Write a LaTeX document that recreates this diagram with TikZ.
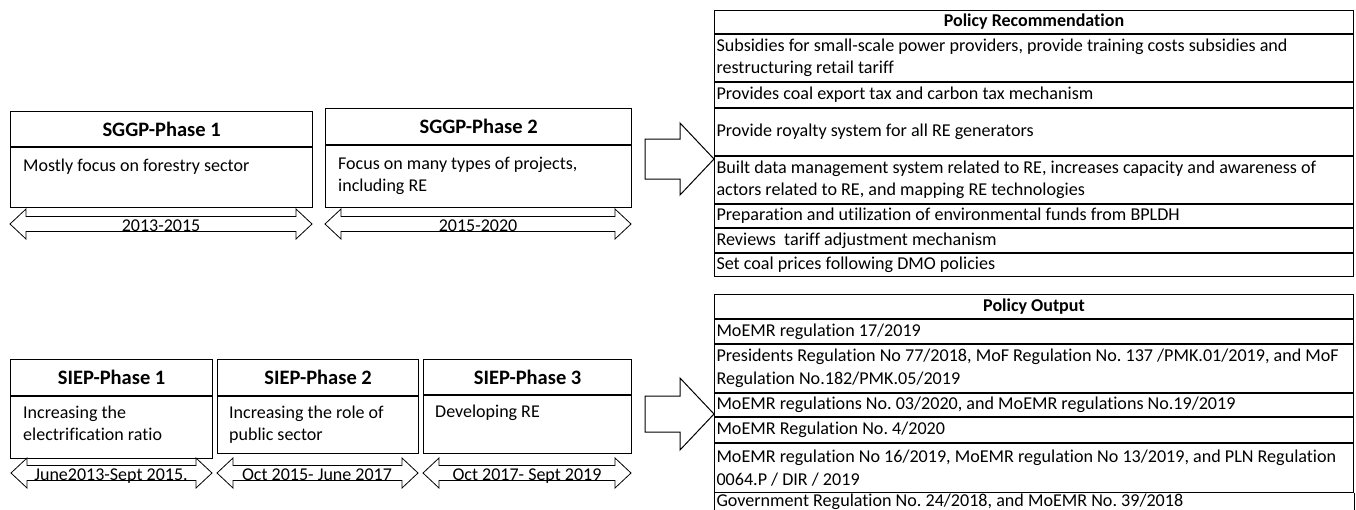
\documentclass[tikz,border=0pt]{standalone}
\usepackage{fontspec}
\setmainfont{Carlito}[Ligatures=CommonOff]
\frenchspacing
\usetikzlibrary{positioning}

\newcommand{\periodarrow}[3]{%
  \draw[period] (#1,#3) -- (#1+16,#3-15) -- (#1+16,#3-7.5) -- (#2-16,#3-7.5)
    -- (#2-16,#3-15) -- (#2,#3) -- (#2-16,#3+15) -- (#2-16,#3+7.5)
    -- (#1+16,#3+7.5) -- (#1+16,#3+15) -- cycle;}

\begin{document}
\begin{tikzpicture}[x=1pt, y=-1pt,
    phasehead/.style={draw, line width=1.2pt, inner sep=0pt, anchor=north west,
        font=\fontsize{20.5}{24}\selectfont\bfseries},
    phasebody/.style={draw, line width=1.2pt, inner sep=0pt},
    phasetext/.style={inner sep=0pt, align=flush left, anchor=north west,
        font=\fontsize{18}{22}\selectfont},
    period/.style={draw, line width=0.8pt, fill=white},
    periodtext/.style={inner sep=0pt, anchor=base, font=\fontsize{18}{22}\selectfont},
    tablehead/.style={draw, line width=1pt, minimum width=639pt, inner sep=0pt,
        font=\fontsize{18}{22}\selectfont\bfseries},
    tablerow/.style={draw, line width=1pt, text width=635pt, inner xsep=2pt,
        inner ysep=0pt, align=flush left, font=\fontsize{18.1}{22.5}\selectfont},
    bigarrow/.style={draw, line width=1pt, fill=white}]

\useasboundingbox (0,0) rectangle (1356,509);
\clip (0,0) rectangle (1356,509);

% SGGP phases
\node[phasehead, minimum width=302pt, minimum height=35pt] (sggpA) at (10,111) {SGGP-Phase 1};
\node[phasebody, minimum width=302pt, minimum height=60pt, below=0pt of sggpA] (sggpAbody) {};
\node[phasetext] (sggpAtext) at ([xshift=13pt, yshift=-12pt]sggpAbody.north west)
    {Mostly focus on forestry sector};

\node[phasehead, minimum width=306pt, minimum height=36pt] (sggpB) at (325,108) {SGGP-Phase 2};
\node[phasebody, minimum width=306pt, minimum height=62pt, below=0pt of sggpB] (sggpBbody) {};
\node[phasetext] (sggpBtext) at ([xshift=13pt, yshift=-12pt]sggpBbody.north west)
    {Focus on many types of projects,\\including RE};

\periodarrow{10}{312}{224}
\node[periodtext] (sggpAyears) at (161,231) {2013-2015};
\periodarrow{325}{631}{224}
\node[periodtext] (sggpByears) at (478,231) {2015-2020};

% SIEP phases
\node[phasehead, minimum width=202pt, minimum height=36pt] (siepA) at (10,359) {SIEP-Phase 1};
\node[phasebody, minimum width=202pt, minimum height=62pt, below=0pt of siepA] (siepAbody) {};
\node[phasetext] (siepAtext) at ([xshift=13pt, yshift=-10pt]siepAbody.north west)
    {Increasing the\\electrification ratio};

\node[phasehead, minimum width=201pt, minimum height=36pt] (siepB) at (217,359) {SIEP-Phase 2};
\node[phasebody, minimum width=201pt, minimum height=57pt, below=0pt of siepB] (siepBbody) {};
\node[phasetext] (siepBtext) at ([xshift=12pt, yshift=-10pt]siepBbody.north west)
    {Increasing the role of\\public sector};

\node[phasehead, minimum width=208pt, minimum height=35pt] (siepC) at (423,359) {SIEP-Phase 3};
\node[phasebody, minimum width=208pt, minimum height=58pt, below=0pt of siepC] (siepCbody) {};
\node[phasetext] (siepCtext) at ([xshift=12pt, yshift=-10pt]siepCbody.north west)
    {Developing RE};

\periodarrow{11}{212}{473}
\node[periodtext] (siepAyears) at (111,480) {June2013-Sept 2015.};
\periodarrow{217}{418}{473}
\node[periodtext] (siepByears) at (317,480) {Oct 2015- June 2017};
\periodarrow{423}{631}{473}
\node[periodtext] (siepCyears) at (527,480) {Oct 2017- Sept 2019};

% block arrows
\coordinate (recTip) at (714,159);
\draw[bigarrow] (recTip) -- ++(-34,-36) -- ++(0,16) -- ++(-35,0) -- ++(0,40)
    -- ++(35,0) -- ++(0,16) -- cycle;
\coordinate (outTip) at (714,414);
\draw[bigarrow] (outTip) -- ++(-34,-36) -- ++(0,18) -- ++(-35,0) -- ++(0,36)
    -- ++(35,0) -- ++(0,18) -- cycle;

% Policy Recommendation
\node[tablehead, minimum height=23pt, anchor=north west] (rec0) at (714,10) {Policy Recommendation};
\node[tablerow, minimum height=47pt, below=0pt of rec0] (rec1)
    {Subsidies for small-scale power providers, provide training costs subsidies and\\restructuring retail tariff};
\node[tablerow, minimum height=25pt, below=0pt of rec1] (rec2)
    {Provides coal export tax and carbon tax mechanism};
\node[tablerow, minimum height=47pt, below=0pt of rec2] (rec3)
    {Provide royalty system for all RE generators};
\node[tablerow, minimum height=47pt, below=0pt of rec3] (rec4)
    {Built data management system related to RE, increases capacity and awareness of\\actors related to RE, and mapping RE technologies};
\node[tablerow, minimum height=23pt, below=0pt of rec4] (rec5)
    {Preparation and utilization of environmental funds from BPLDH};
\node[tablerow, minimum height=24pt, below=0pt of rec5] (rec6)
    {Reviews\ \ tariff adjustment mechanism};
\node[tablerow, minimum height=23pt, below=0pt of rec6] (rec7)
    {Set coal prices following DMO policies};

% Policy Output
\node[tablehead, minimum height=24pt, anchor=north west] (out0) at (714,294) {Policy Output};
\node[tablerow, minimum height=24pt, below=0pt of out0] (out1)
    {MoEMR regulation 17/2019};
\node[tablerow, minimum height=48pt, below=0pt of out1] (out2)
    {Presidents Regulation No 77/2018, MoF Regulation No. 137 /PMK.01/2019, and MoF\\Regulation No.182/PMK.05/2019};
\node[tablerow, minimum height=23pt, below=0pt of out2] (out3)
    {MoEMR regulations No. 03/2020, and MoEMR regulations No.19/2019};
\node[tablerow, minimum height=25pt, below=0pt of out3] (out4)
    {MoEMR Regulation No. 4/2020};
\node[tablerow, minimum height=49pt, below=0pt of out4] (out5)
    {MoEMR regulation No 16/2019, MoEMR regulation No 13/2019, and PLN Regulation\\0064.P / DIR / 2019};
\node[tablerow, draw=none, minimum height=16pt, below=0pt of out5] (out6)
    {Government Regulation No. 24/2018, and MoEMR No. 39/2018};
\draw[line width=1pt] (out6.north west) -- ([yshift=-12pt]out6.south west);
\draw[line width=1pt] (out6.north east) -- ([yshift=-12pt]out6.south east);

\end{tikzpicture}
\end{document}
